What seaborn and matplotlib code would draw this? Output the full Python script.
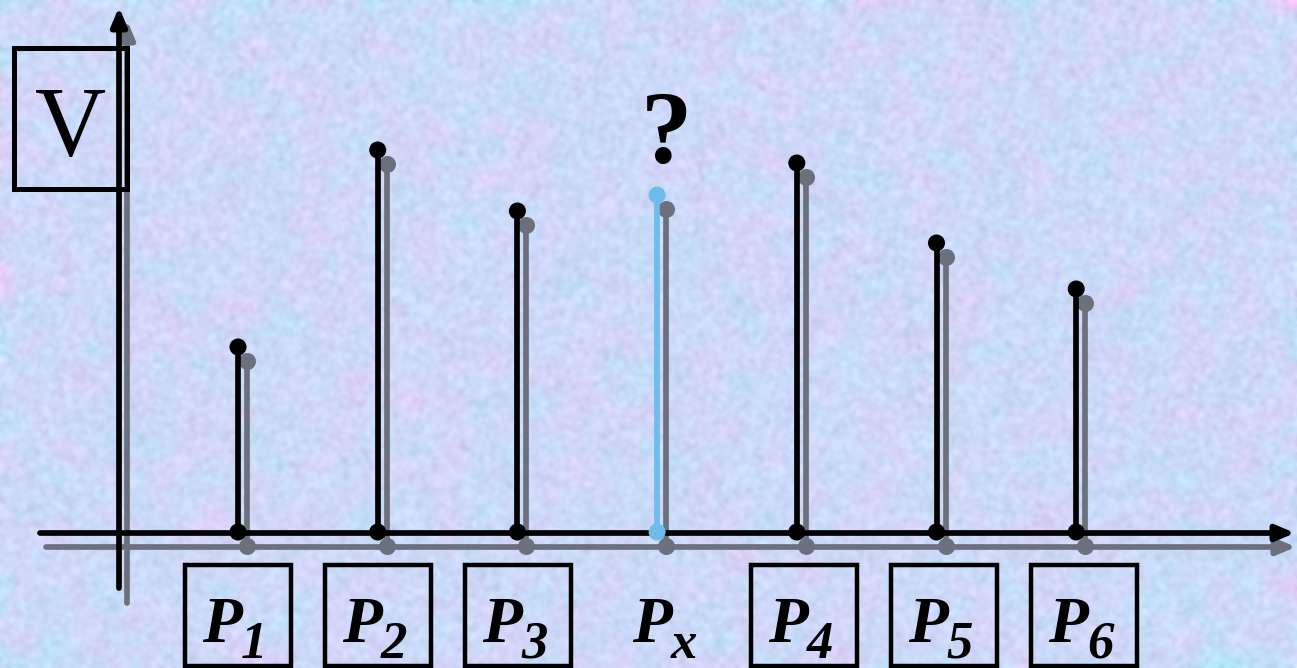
import numpy as np
import pandas as pd
import matplotlib
matplotlib.use("Agg")
import matplotlib.pyplot as plt
from matplotlib.patches import Rectangle
import seaborn as sns

# ---- data -------------------------------------------------------------
labels = ["1", "2", "3", "x", "4", "5", "6"]          # subscripts of P
values = [1.85, 3.82, 3.21, 3.37, 3.69, 2.89, 2.43]   # potential V at each point
unknown = "x"                                          # the sought value
boxed = [True, True, True, False, True, True, True]

# ---- layout -----------------------------------------------------------
W, H, DPI = 1297, 668, 100
X_FIRST, X_STEP = 238.0, 139.7     # pixel x of first stem, spacing
Y_BASE, Y_UNIT = 532.0, 100.0      # pixel y of baseline, pixels per unit


def px_x(p):
    return 1 + (p - X_FIRST) / X_STEP


def px_y(p):
    return (Y_BASE - p) / Y_UNIT


SHX, SHY = 9 / X_STEP, -14 / Y_UNIT   # drop shadow offset
INK = "#000000"
SHADOW = "#6c707c"
BLUE = "#6fbcec"
LW = 4.1

sns.set_style("white")
plt.rcParams["font.family"] = ["Liberation Serif", "DejaVu Serif"]

fig = plt.figure(figsize=(W / DPI, H / DPI), dpi=DPI)
ax = fig.add_axes([0, 0, 1, 1])
ax.set_xlim(px_x(0), px_x(W))
ax.set_ylim(px_y(H), px_y(0))
ax.axis("off")

# ---- textured paper background ---------------------------------------
rng = np.random.default_rng(7)


def box_blur(a, r):
    for axis in (0, 1):
        c = np.cumsum(np.pad(a, [(r + 1, r) if i == axis else (0, 0) for i in range(2)],
                             mode="edge"), axis=axis)
        if axis == 0:
            a = (c[2 * r + 1:] - c[:-2 * r - 1]) / (2 * r + 1)
        else:
            a = (c[:, 2 * r + 1:] - c[:, :-2 * r - 1]) / (2 * r + 1)
    return a


def field(r, amp):
    f = rng.standard_normal((H, W))
    f = box_blur(box_blur(f, r), r)
    return amp * f / f.std()


base = np.array([0.805, 0.850, 0.975])
pink = np.array([0.06, -0.03, 0.0])
cyan = np.array([-0.05, 0.03, 0.0])
f1 = field(12, 1.0)
f2 = field(8, 1.0)
f3 = field(2, 0.014)
img = (base[None, None, :]
       + 0.22 * f1[..., None] * pink[None, None, :]
       + 0.22 * f2[..., None] * cyan[None, None, :]
       + f3[..., None])
img = np.clip(img, 0, 1)
ax.imshow(img, extent=(px_x(0), px_x(W), px_y(H), px_y(0)), aspect="auto",
          interpolation="bilinear", zorder=0)

# ---- axes with arrows (shadow first) ---------------------------------
def arrow(x0, y0, x1, y1, color, z):
    ax.annotate("", xy=(px_x(x1), px_y(y1)), xytext=(px_x(x0), px_y(y0)),
                arrowprops=dict(arrowstyle="-|>,head_length=1.0,head_width=0.42",
                                mutation_scale=11, lw=LW, color=color,
                                shrinkA=0, shrinkB=0),
                annotation_clip=False, zorder=z)


arrow(46, 547, 1296, 547, SHADOW, 2)
arrow(127, 603, 127, 20, SHADOW, 2)
arrow(40, 533, 1295, 533, INK, 4)
arrow(119, 588, 119, 7, INK, 4)

# ---- stems -----------------------------------------------------------
df = pd.DataFrame({"label": labels, "value": values})
df["pos"] = np.arange(1, len(df) + 1)
df["color"] = [BLUE if l == unknown else INK for l in df["label"]]

ax.vlines(df["pos"] + SHX, SHY, df["value"] + SHY, color=SHADOW, lw=LW, zorder=3)
shadow_pts = pd.concat([
    pd.DataFrame({"x": df["pos"] + SHX, "y": df["value"] + SHY}),
    pd.DataFrame({"x": df["pos"] + SHX, "y": SHY + 0 * df["value"]}),
])
sns.scatterplot(data=shadow_pts, x="x", y="y", ax=ax, color=SHADOW, s=150,
                linewidth=0, zorder=3, legend=False)

ax.vlines(df["pos"], 0, df["value"], colors=df["color"], lw=LW, zorder=5)
main_pts = pd.concat([
    df[["pos", "value", "color"]].rename(columns={"pos": "x", "value": "y"}),
    df[["pos", "color"]].rename(columns={"pos": "x"}).assign(y=0.0),
])
sns.scatterplot(data=main_pts, x="x", y="y", hue="color", palette={INK: INK, BLUE: BLUE},
                ax=ax, s=150, linewidth=0, zorder=6, legend=False)

# ---- labels ------------------------------------------------------------
def to_px(pos):
    return X_FIRST + (pos - 1) * X_STEP


box_shift = [0, 0, 1, 0, 7, 7, 8]
for (lab, pos, has_box, sh) in zip(df["label"], df["pos"], boxed, box_shift):
    cx = to_px(pos)
    if has_box:
        bx = cx + sh
        ax.add_patch(Rectangle((px_x(bx - 53), px_y(666)), 106 / X_STEP, 101 / Y_UNIT,
                               fill=False, lw=3.2, ec=INK, zorder=7))
        tx = bx - 8
    else:
        tx = cx + 3
    ax.text(px_x(tx + 12), px_y(642), "P", ha="right", va="baseline",
            fontsize=47, fontweight="bold", fontstyle="italic", color=INK, zorder=8)
    ax.text(px_x(tx + 11), px_y(658), lab, ha="left", va="baseline",
            fontsize=38, fontweight="bold", fontstyle="italic", color=INK, zorder=8)

# unknown marker above the blue stem
qpos = df.loc[df["label"] == unknown, "pos"].iloc[0]
ax.text(px_x(to_px(qpos) + 9), px_y(163), "?", ha="center", va="baseline",
        fontsize=74, fontweight="bold", color=INK, zorder=8)

# axis name
ax.add_patch(Rectangle((px_x(14), px_y(189)), 113 / X_STEP, 141 / Y_UNIT,
                       fill=False, lw=3.6, ec=INK, zorder=7))
ax.text(px_x(70), px_y(155), "V", ha="center", va="baseline", fontsize=71,
        color=INK, zorder=8)

fig.savefig("out.png", dpi=DPI)
